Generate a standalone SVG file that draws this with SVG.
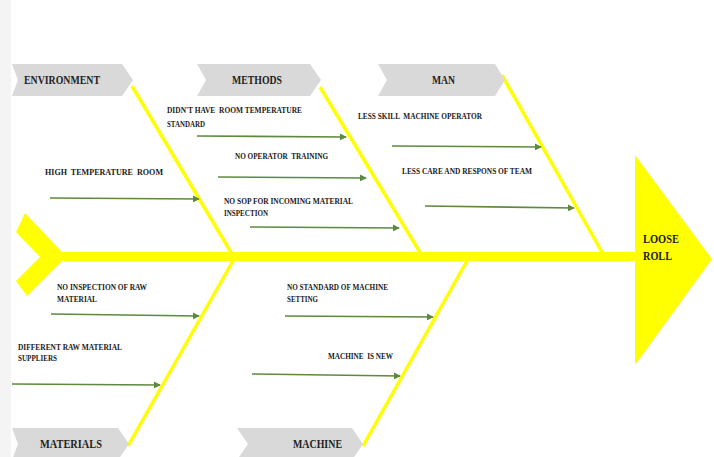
<svg xmlns="http://www.w3.org/2000/svg" width="714" height="457" viewBox="0 0 714 457">
<defs>
<style>
.chev{fill:#d9d9d9}
.hd{font-family:"Liberation Serif","Times New Roman",serif;font-weight:bold;font-size:12px;fill:#222}
.lb{font-family:"Liberation Serif","Times New Roman",serif;font-weight:bold;font-size:9px;fill:#1a1a1a;white-space:pre}
.bone{stroke:#ffff00;stroke-width:3.5;fill:none;stroke-linecap:butt}
.arr{stroke:#5d8a3e;stroke-width:1.6;fill:none;marker-end:url(#ah)}
.yl{fill:#ffff00}
</style>
<marker id="ah" viewBox="0 0 8 8" refX="7" refY="4" markerWidth="7" markerHeight="7" markerUnits="userSpaceOnUse" orient="auto">
<path d="M0,0 L8,4 L0,8 Z" fill="#5d8a3e"/>
</marker>
</defs>
<rect x="0" y="0" width="714" height="457" fill="#ffffff"/>
<rect x="0" y="0" width="11" height="457" fill="#f4f4f4"/>

<g id="spine">
<rect class="yl" x="58" y="252" width="580" height="9"/>
</g>
<g id="tail">
<polygon class="yl" points="25,213 62,252 62,261 27,296 16,281 40,257 16,232"/>
</g>
<g id="head">
<polygon class="yl" points="635,155 712,259 635,365"/>
<text class="hd" x="643" y="243" font-size="13" textLength="36" lengthAdjust="spacingAndGlyphs">LOOSE</text>
<text class="hd" x="643" y="260" font-size="13" textLength="29" lengthAdjust="spacingAndGlyphs">ROLL</text>
</g>

<g id="bones">
<line class="bone" x1="132" y1="86" x2="232" y2="254"/>
<line class="bone" x1="320" y1="87" x2="421" y2="254"/>
<line class="bone" x1="502" y1="75" x2="603" y2="254"/>
<line class="bone" x1="234" y1="259" x2="128" y2="446"/>
<line class="bone" x1="468" y1="259" x2="363" y2="446"/>
</g>

<g id="cat-environment">
<polygon class="chev" points="12,64 122,64 133,80 122,96 12,96 18,80"/>
<text class="hd" x="24" y="84" textLength="76" lengthAdjust="spacingAndGlyphs">ENVIRONMENT</text>
</g>
<g id="cat-methods">
<polygon class="chev" points="197,64 310,64 321,80 310,96 197,96 206,80"/>
<text class="hd" x="232" y="84" textLength="50" lengthAdjust="spacingAndGlyphs">METHODS</text>
</g>
<g id="cat-man">
<polygon class="chev" points="378,64 495,64 505,80 495,96 378,96 387,80"/>
<text class="hd" x="432" y="84" textLength="23" lengthAdjust="spacingAndGlyphs">MAN</text>
</g>
<g id="cat-materials">
<polygon class="chev" points="12,428 118,428 129,444 118,460 12,460 18,444"/>
<text class="hd" x="40" y="448" textLength="62" lengthAdjust="spacingAndGlyphs">MATERIALS</text>
</g>
<g id="cat-machine">
<polygon class="chev" points="237,428 352,428 363,444 352,460 237,460 248,444"/>
<text class="hd" x="293" y="448" textLength="49" lengthAdjust="spacingAndGlyphs">MACHINE</text>
</g>

<g id="cause-high-temp">
<text class="lb" x="45" y="175" font-size="10" textLength="118" lengthAdjust="spacingAndGlyphs">HIGH  TEMPERATURE  ROOM</text>
</g>
<g id="cause-room-standard">
<text class="lb" x="167" y="113" textLength="135" lengthAdjust="spacingAndGlyphs">DIDN'T HAVE  ROOM TEMPERATURE</text>
<text class="lb" x="167" y="127" textLength="38" lengthAdjust="spacingAndGlyphs">STANDARD</text>
</g>
<g id="cause-operator-training">
<text class="lb" x="235" y="159" textLength="93" lengthAdjust="spacingAndGlyphs">NO OPERATOR  TRAINING</text>
</g>
<g id="cause-no-sop">
<text class="lb" x="224" y="204" textLength="129" lengthAdjust="spacingAndGlyphs">NO SOP FOR INCOMING MATERIAL</text>
<text class="lb" x="224" y="216" textLength="44" lengthAdjust="spacingAndGlyphs">INSPECTION</text>
</g>
<g id="cause-less-skill">
<text class="lb" x="358" y="119" textLength="124" lengthAdjust="spacingAndGlyphs">LESS SKILL  MACHINE OPERATOR</text>
</g>
<g id="cause-less-care">
<text class="lb" x="402" y="174" textLength="130" lengthAdjust="spacingAndGlyphs">LESS CARE AND RESPONS OF TEAM</text>
</g>
<g id="cause-no-inspection">
<text class="lb" x="57" y="290" textLength="90" lengthAdjust="spacingAndGlyphs">NO INSPECTION OF RAW</text>
<text class="lb" x="57" y="302" textLength="40" lengthAdjust="spacingAndGlyphs">MATERIAL</text>
</g>
<g id="cause-suppliers">
<text class="lb" x="18" y="350" textLength="104" lengthAdjust="spacingAndGlyphs">DIFFERENT RAW MATERIAL</text>
<text class="lb" x="18" y="361" textLength="39" lengthAdjust="spacingAndGlyphs">SUPPLIERS</text>
</g>
<g id="cause-machine-setting">
<text class="lb" x="287" y="290" textLength="101" lengthAdjust="spacingAndGlyphs">NO STANDARD OF MACHINE</text>
<text class="lb" x="287" y="302" textLength="31" lengthAdjust="spacingAndGlyphs">SETTING</text>
</g>
<g id="cause-machine-new">
<text class="lb" x="328" y="359" textLength="65" lengthAdjust="spacingAndGlyphs">MACHINE  IS NEW</text>
</g>

<g id="connectors">
<line class="arr" x1="50" y1="198" x2="199" y2="199"/>
<line class="arr" x1="197" y1="136" x2="346" y2="137"/>
<line class="arr" x1="218" y1="177" x2="366" y2="178"/>
<line class="arr" x1="250" y1="227" x2="399" y2="228"/>
<line class="arr" x1="392" y1="146" x2="541" y2="147"/>
<line class="arr" x1="425" y1="206" x2="574" y2="208"/>
<line class="arr" x1="51" y1="314" x2="199" y2="316"/>
<line class="arr" x1="12" y1="384" x2="160" y2="385"/>
<line class="arr" x1="285" y1="316" x2="433" y2="317"/>
<line class="arr" x1="252" y1="374" x2="400" y2="376"/>
</g>
</svg>
